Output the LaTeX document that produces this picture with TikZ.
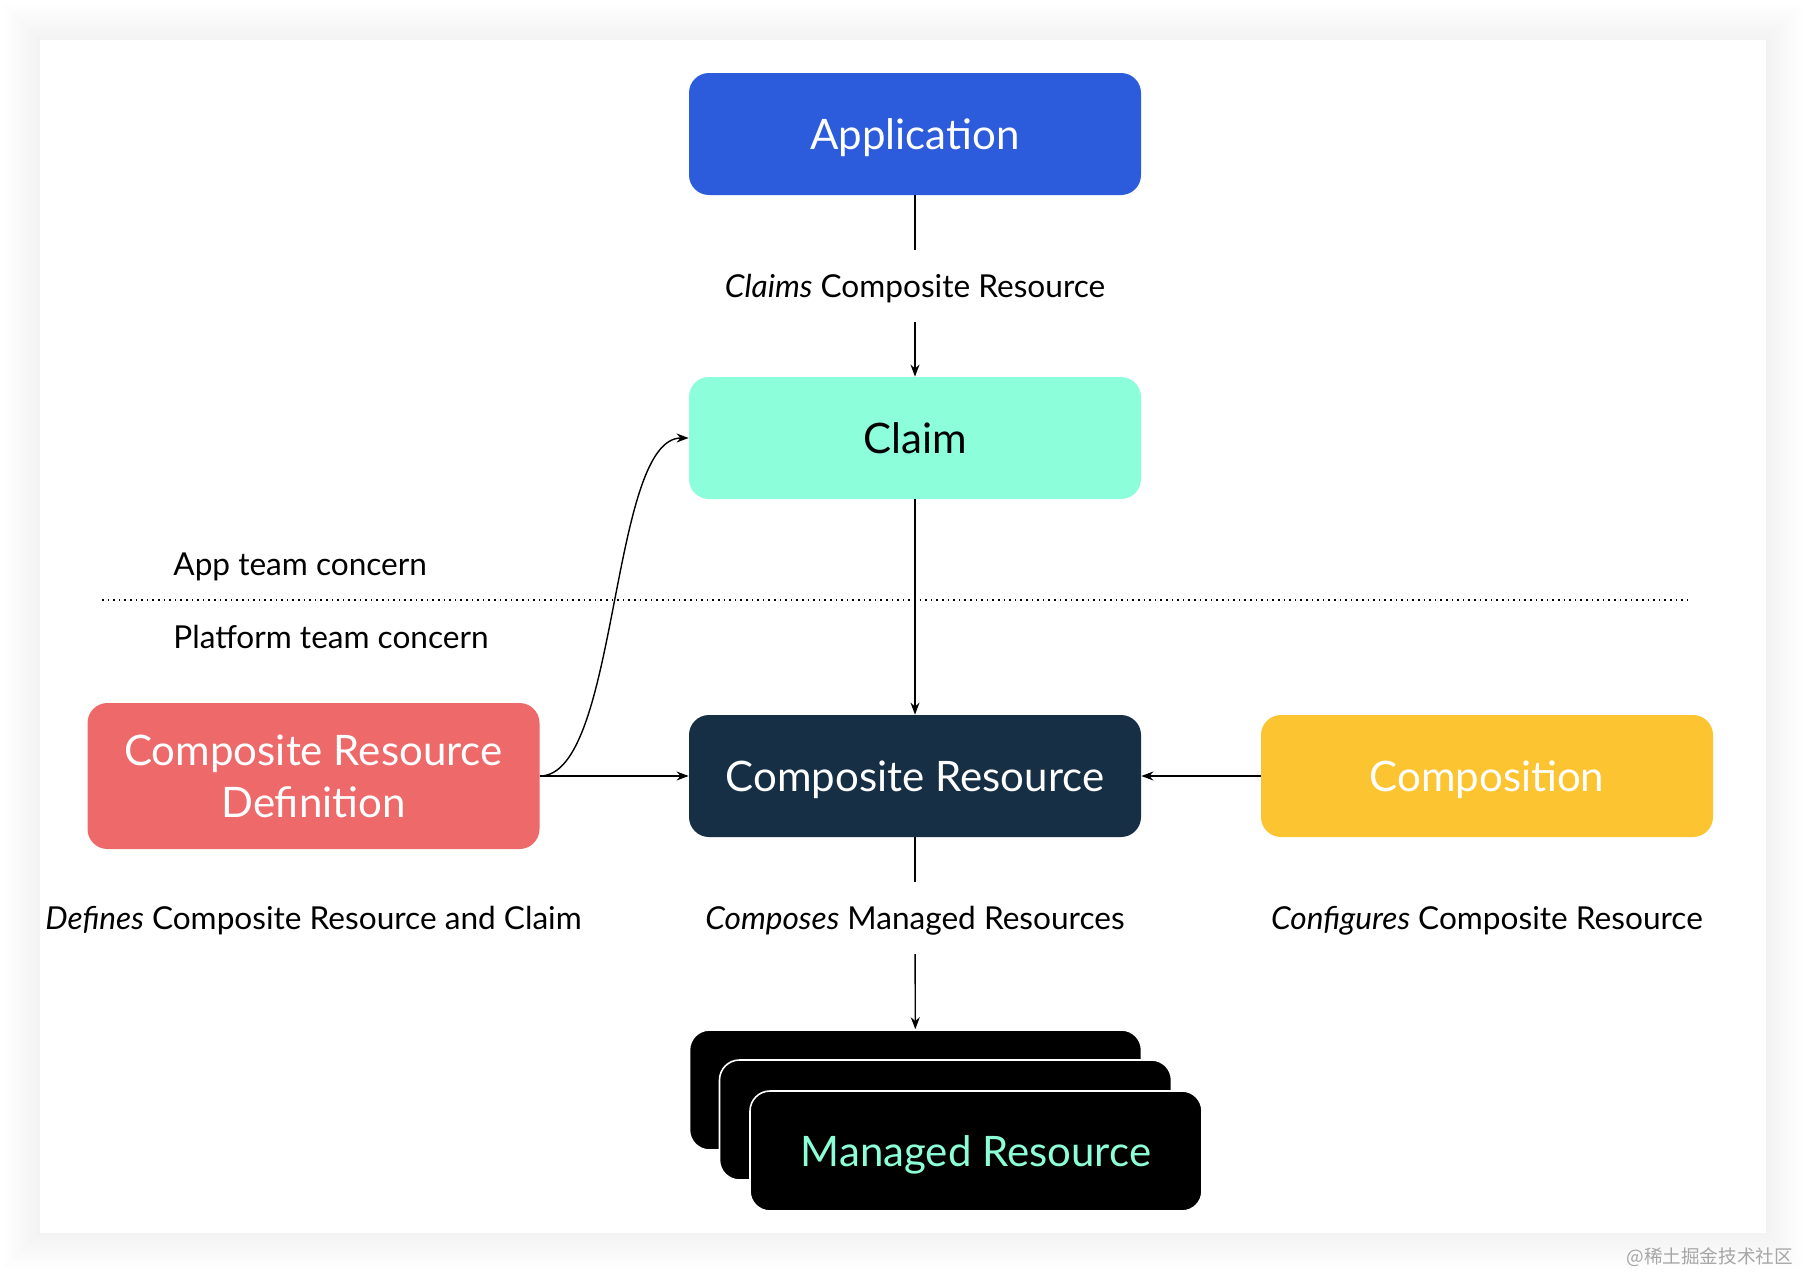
\documentclass[tikz,border=0pt]{standalone}
\usepackage{fontspec}
\setmainfont{Lato}
\newfontfamily\cjkfont{Noto Sans CJK SC}
\usetikzlibrary{positioning}
\usetikzlibrary{arrows.meta}
\definecolor{appblue}{HTML}{2C5BDC}
\definecolor{claimgreen}{HTML}{8CFFDA}
\definecolor{xrnavy}{HTML}{172F45}
\definecolor{xrdred}{HTML}{EE6A6A}
\definecolor{compyellow}{HTML}{FDC432}
\tikzset{%
  box/.style = {rectangle,rounded corners=10pt,minimum width=226pt,
        minimum height=61pt,align=center,text depth=0pt,font=\fontsize{21}{26}\selectfont},
  mrbox/.style = {box,fill=black,draw=white,line width=0.8pt,minimum height=60pt},
  lbl/.style = {inner xsep=2pt,inner ysep=12pt,text depth=0pt,font=\fontsize{15.8}{19}\selectfont},
  note/.style = {anchor=west,inner sep=0pt,text depth=0pt,font=\fontsize{15.8}{19}\selectfont},
  arr/.style = {-{Stealth[length=6pt,width=4.5pt]},line width=0.7pt},
  plain/.style = {line width=0.7pt}
}
\begin{document}
\begin{tikzpicture}[x=0.5pt,y=-0.5pt]
    \useasboundingbox (0,0) rectangle (1806,1274);
    \fill[white] (0,0) rectangle (1806,1274);
    % soft shadow round the card
    \foreach \s in {3,6,...,36}
        \fill[black,opacity=0.004] (40-\s,40-\s) rectangle (1766+\s,1233+\s);
    \fill[white] (40,40) rectangle (1766,1233);

    \node[box,fill=appblue,text=white] (app) at (915,134) {Application};
    \node[box,fill=claimgreen] (claim) at (915,438) {Claim};
    \node[box,fill=xrnavy,text=white] (xr) at (915,776) {Composite Resource};
    \node[box,fill=xrdred,text=white,minimum height=73pt] (xrd) at (313.5,776) {Composite Resource\\Definition};
    \node[box,fill=compyellow,text=white] (comp) at (1487,776) {Composition};

    % stack of managed resources
    \node[mrbox] (mr1) at (915.5,1090) {};
    \node[mrbox] (mr2) at (945.5,1120) {};
    \node[mrbox,text=claimgreen] (mr3) at (976,1151) {Managed Resource};

    \node[lbl] (claimslbl) at (915,286) {\textit{Claims} Composite Resource};
    \node[lbl] (composeslbl) at (915,918) {\textit{Composes} Managed Resources};
    \node[lbl] (defineslbl) at (313.5,918) {\textit{Defines} Composite Resource and Claim};
    \node[lbl] (configlbl) at (1487,918) {\textit{Configures} Composite Resource};

    \node[note] (appteam) at (173,564) {App team concern};
    \node[note] (platteam) at (173,637) {Platform team concern};
    \coordinate (divl) at (102,600);
    \coordinate (divr) at (1692,600);
    \draw[dotted,line width=0.8pt] (divl) -- (divr);

    \draw[plain] (app) -- (claimslbl);
    \draw[arr] (claimslbl) -- (claim);
    \draw[arr] (claim) -- (xr);
    \draw[plain] (xr) -- (composeslbl);
    \draw[arr] (composeslbl) -- (mr1);
    \draw[arr] (xrd) -- (xr);
    \draw[arr] (comp) -- (xr);
    \draw[arr] (xrd.east) to[out=0,in=180,looseness=0.55] (claim.west);

    \node[anchor=east,text=gray!70,font=\cjkfont\fontsize{9.3}{11}\selectfont] (mark) at (1800,1257) {@稀土掘金技术社区};
\end{tikzpicture}
\end{document}
